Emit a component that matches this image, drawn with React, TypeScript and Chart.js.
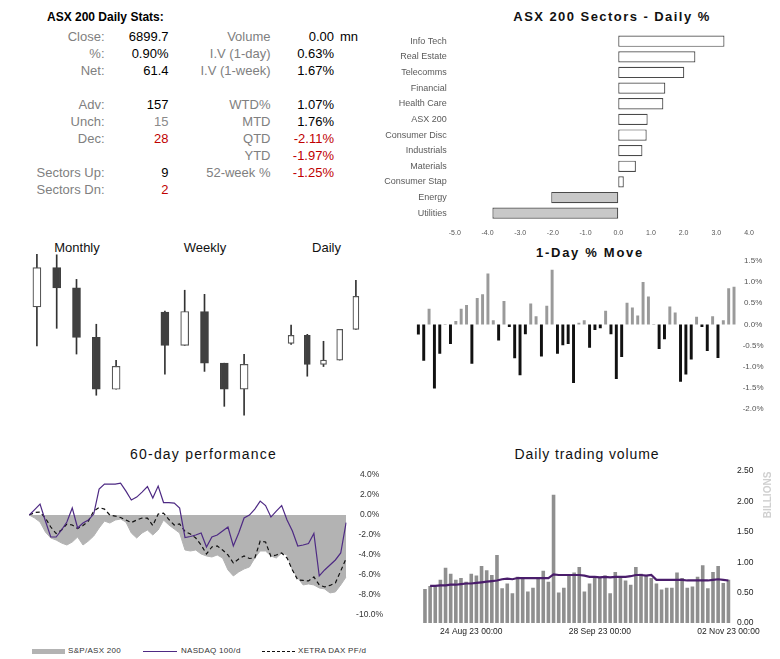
import React, { useEffect, useRef } from "react";
import { Chart, registerables } from "chart.js";
Chart.register(...registerables);

const FONT = '"Liberation Sans", Arial, Helvetica, sans-serif';
Chart.defaults.font.family = FONT;

// ---------- Stats table ----------
const statLeftLabels = ["Close:", "%:", "Net:", "", "Adv:", "Unch:", "Dec:", "", "Sectors Up:", "Sectors Dn:"];
const statLeftValues = ["6899.7", "0.90%", "61.4", "", "157", "15", "28", "", "9", "2"];
const statLeftTones = ["k", "k", "k", "", "k", "g", "r", "", "k", "r"];
const statRightLabels = ["Volume", "I.V (1-day)", "I.V (1-week)", "", "WTD%", "MTD", "QTD", "YTD", "52-week %", ""];
const statRightValues = ["0.00", "0.63%", "1.67%", "", "1.07%", "1.76%", "-2.11%", "-1.97%", "-1.25%", ""];
const statRightTones = ["k", "k", "k", "", "k", "k", "r", "r", "r", ""];

// ---------- Sectors ----------
const sectorNames = ["Info Tech", "Real Estate", "Telecomms", "Financial", "Health Care", "ASX 200", "Consumer Disc", "Industrials", "Materials", "Consumer Stap", "Energy", "Utilities"];
const sectorChanges = [3.25, 2.36, 2.02, 1.44, 1.38, 0.9, 0.87, 0.74, 0.54, 0.17, -2.05, -3.85];

// ---------- Candles ----------
const candleLabels = ["1", "2", "3", "4", "5"];
const monthlyOpen = [7207, 7410, 7305, 7049, 6781];
const monthlyHigh = [7478, 7476, 7349, 7117, 6931];
const monthlyLow = [7005, 7096, 6963, 6750, 6781];
const monthlyClose = [7410, 7305, 7049, 6781, 6899.7];

const weeklyOpen = [7052, 6955, 7054, 6903, 6827];
const weeklyHigh = [7055, 7116, 7104, 6903, 6929];
const weeklyLow = [6871, 6955, 6879, 6777, 6751];
const weeklyClose = [6955, 7054, 6903, 6827, 6899.7];

const dailyOpen = [6812, 6827, 6773, 6781, 6838.3];
const dailyHigh = [6846, 6829, 6816, 6838.3, 6929.5];
const dailyLow = [6810, 6751, 6769, 6781, 6838.3];
const dailyClose = [6827, 6773, 6781, 6838.3, 6899.7];

// ---------- Dates (60 trading days) ----------
const tradingDates = [
  "11 Aug 23", "14 Aug 23", "15 Aug 23", "16 Aug 23", "17 Aug 23", "18 Aug 23", "21 Aug 23", "22 Aug 23", "23 Aug 23", "24 Aug 23",
  "25 Aug 23", "28 Aug 23", "29 Aug 23", "30 Aug 23", "31 Aug 23", "01 Sep 23", "04 Sep 23", "05 Sep 23", "06 Sep 23", "07 Sep 23",
  "08 Sep 23", "11 Sep 23", "12 Sep 23", "13 Sep 23", "14 Sep 23", "15 Sep 23", "18 Sep 23", "19 Sep 23", "20 Sep 23", "21 Sep 23",
  "22 Sep 23", "25 Sep 23", "26 Sep 23", "27 Sep 23", "28 Sep 23", "29 Sep 23", "02 Oct 23", "03 Oct 23", "04 Oct 23", "05 Oct 23",
  "06 Oct 23", "09 Oct 23", "10 Oct 23", "11 Oct 23", "12 Oct 23", "13 Oct 23", "16 Oct 23", "17 Oct 23", "18 Oct 23", "19 Oct 23",
  "20 Oct 23", "23 Oct 23", "24 Oct 23", "25 Oct 23", "26 Oct 23", "27 Oct 23", "30 Oct 23", "31 Oct 23", "01 Nov 23", "02 Nov 23",
];
const volumeTickDates = ["24 Aug 23", "28 Sep 23", "02 Nov 23"];

// ---------- 1-day % move ----------
const dayMoves = [
  -0.24, -0.86, 0.37, -1.51, -0.69, 0.01, -0.46, 0.08, 0.37, 0.46,
  -0.93, 0.62, 0.71, 1.2, 0.1, -0.38, 0.55, -0.06, -0.8, -1.2,
  -0.23, 0.49, 0.19, -0.76, 0.44, 1.29, -0.69, -0.49, -0.46, -1.38,
  0.04, 0.1, -0.55, -0.13, -0.09, 0.32, -0.23, -1.29, -0.77, 0.51,
  0.4, 0.21, 1.0, 0.66, 0.01, -0.58, -0.35, 0.42, 0.28, -1.35,
  -1.18, -0.83, 0.18, -0.06, -0.63, 0.19, -0.79, 0.1, 0.85, 0.89,
];

// ---------- 60-day performance ----------
const asxPerf = [
  0, -0.3, -0.7, -1.7, -2.3, -2.5, -2.8, -3.0, -2.7, -2.2,
  -3.0, -2.6, -2.1, -1.3, -0.6, -0.8, -0.5, -0.4, -0.7, -1.8,
  -2.3, -1.8, -1.5, -2.0, -1.5, -0.5, -1.0, -1.4, -1.8, -3.5,
  -3.6, -3.5, -3.9, -4.1, -4.2, -4.0, -4.3, -5.5, -6.1, -5.7,
  -5.4, -5.2, -4.3, -3.6, -3.6, -4.1, -4.3, -3.8, -4.0, -5.5,
  -6.3, -7.0, -6.9, -7.0, -7.3, -7.4, -7.8, -7.7, -7.0, -6.2,
];
const nasdaqPerf = [
  0, 0.55, 1.1, -0.6, -2.2, -2.2, -1.5, -0.7, 0.7, -1.3,
  -0.8, -0.5, 0.1, 2.6, 3.1, 3.1, 3.1, 3.2, 2.4, 1.5,
  1.8, 2.3, 2.85, 1.7, 2.9, 1.25, 1.25, 1.2, 0.7, -2.25,
  -2.15, -2.0, -1.8, -3.2, -2.2, -2.0, -1.6, -1.2, -3.1, -1.8,
  -0.3, 0.0, 0.6, 1.4, 0.95, -0.2, 0.4, 0.95, -0.5, -1.6,
  -3.1, -3.0, -2.85, -1.85, -6.1, -5.5, -5.0, -4.5, -3.8, -0.75,
];
const daxPerf = [
  0, 0.25, 0.3, -0.3, -1.2, -1.85, -1.5, -0.9, -1.0, -1.35,
  -1.05, -0.6, 0.4, 0.75, 0.6, 0.0, -0.1, -0.25, -0.5, -0.75,
  -0.5, -0.3, -0.3, -1.05, 0.1, 0.2, -0.45, -1.0, -0.9, -1.65,
  -1.9, -2.3, -3.0, -3.9, -3.2, -3.1, -3.5, -4.0, -4.8, -4.4,
  -4.1, -4.35, -4.3, -2.6, -2.7, -4.15, -4.0, -3.8, -4.3, -5.5,
  -6.5, -6.55, -6.6, -6.2, -7.0, -7.2, -7.05, -6.8, -5.6, -4.35,
];

// ---------- Daily trading volume (billions) ----------
const volumes = [
  0.56, 0.61, 0.6, 0.71, 0.91, 0.81, 0.71, 0.74, 0.68, 0.81,
  0.78, 0.94, 0.87, 0.79, 1.12, 0.57, 0.65, 0.49, 0.76, 0.74,
  0.52, 0.58, 0.74, 0.86, 0.68, 2.11, 0.5, 0.58, 0.78, 0.83,
  0.92, 0.52, 0.65, 0.74, 0.74, 0.78, 0.49, 0.84, 0.74, 0.7,
  0.63, 0.92, 0.81, 0.78, 0.74, 0.65, 0.55, 0.58, 0.58, 0.83,
  0.74, 0.58, 0.6, 0.76, 0.95, 0.57, 0.84, 0.94, 0.66, 0.71,
];
const volumeAvg = [
  null, 0.61, 0.61, 0.62, 0.62, 0.63, 0.63, 0.64, 0.65, 0.65,
  0.66, 0.67, 0.68, 0.69, 0.7, 0.72, 0.73, 0.72, 0.74, 0.74,
  0.74, 0.74, 0.74, 0.74, 0.74, 0.8, 0.79, 0.79, 0.79, 0.79,
  0.79, 0.78, 0.76, 0.76, 0.75, 0.76, 0.75, 0.76, 0.76, 0.76,
  0.77, 0.79, 0.79, 0.78, 0.79, 0.71, 0.71, 0.71, 0.71, 0.71,
  0.71, 0.7, 0.7, 0.7, 0.7, 0.7, 0.71, 0.72, 0.71, 0.7,
];

// ---------- helpers ----------
const noPlugins = { legend: { display: false }, tooltip: { enabled: false }, title: { display: false } };

function ChartBox(props: { left: number; top: number; width: number; height: number; make: () => any }) {
  const ref = useRef<HTMLCanvasElement>(null);
  useEffect(() => {
    const chart = new Chart(ref.current as HTMLCanvasElement, props.make());
    return () => chart.destroy();
  }, []);
  return (
    <canvas
      ref={ref}
      width={props.width}
      height={props.height}
      style={{ position: "absolute", left: props.left, top: props.top, width: props.width, height: props.height }}
    />
  );
}

function Label(props: { text: string; x: number; y: number; align: "left" | "right" | "center"; size: number; color: string; bold?: boolean; spacing?: number; w?: number }) {
  const w = props.w ?? 200;
  const lh = Math.round(props.size * 1.25);
  let left = props.x;
  if (props.align === "right") left = props.x - w;
  if (props.align === "center") left = props.x - w / 2;
  return (
    <div
      style={{
        position: "absolute",
        left,
        top: props.y - lh / 2,
        width: w,
        height: lh,
        lineHeight: lh + "px",
        fontSize: props.size,
        fontFamily: FONT,
        fontWeight: props.bold ? 700 : 400,
        color: props.color,
        textAlign: props.align,
        letterSpacing: props.spacing ? props.spacing + "px" : undefined,
        whiteSpace: "nowrap",
      }}
    >
      {props.text}
    </div>
  );
}

const toneColor = (t: string) => (t === "r" ? "#c00000" : t === "g" ? "#8a8a8a" : "#000000");

function StatsTable() {
  const rows = statLeftLabels.map((_, i) => i);
  return (
    <>
      <Label text="ASX 200 Daily Stats:" x={47} y={17} align="left" size={12} color="#000" bold />
      {rows.map((i) => {
        const y = 36.7 + 17 * i;
        return (
          <React.Fragment key={i}>
            {statLeftLabels[i] && <Label text={statLeftLabels[i]} x={104.5} y={y} align="right" size={13} color="#808080" />}
            {statLeftValues[i] && <Label text={statLeftValues[i]} x={168.5} y={y} align="right" size={13} color={toneColor(statLeftTones[i])} />}
            {statRightLabels[i] && <Label text={statRightLabels[i]} x={270.5} y={y} align="right" size={13} color="#808080" />}
            {statRightValues[i] && <Label text={statRightValues[i]} x={334} y={y} align="right" size={13} color={toneColor(statRightTones[i])} />}
          </React.Fragment>
        );
      })}
      <Label text="mn" x={340} y={36.7} align="left" size={13} color="#000" w={40} />
    </>
  );
}

function sectorsConfig() {
  return {
    type: "bar",
    data: {
      labels: sectorNames,
      datasets: [
        {
          data: sectorChanges,
          backgroundColor: sectorChanges.map((v) => (v >= 0 ? "#ffffff" : "#c8c8c8")),
          borderColor: "#4a4a4a",
          borderWidth: 1.2,
          borderSkipped: false,
          barPercentage: 0.72,
          categoryPercentage: 1,
        },
      ],
    },
    options: {
      indexAxis: "y",
      responsive: false,
      animation: false,
      layout: { padding: { left: 0, right: 31, top: 6.4, bottom: 0 } },
      plugins: noPlugins,
      scales: {
        x: {
          min: -5,
          max: 4,
          ticks: { stepSize: 1, callback: (v: any) => Number(v).toFixed(1), font: { size: 7 }, color: "#555", padding: 8 },
          grid: { display: false, drawTicks: false },
          border: { display: false },
          afterFit: (s: any) => { s.height = 20; },
        },
        y: {
          ticks: { font: { size: 9 }, color: "#5a5a5a", padding: 8 },
          grid: { display: false, drawTicks: false },
          border: { display: false },
          afterFit: (s: any) => { s.width = 74.8; },
        },
      },
    },
  };
}

function candleConfig(open: number[], high: number[], low: number[], close: number[], yMin: number, yMax: number, bodyW: number) {
  return () => ({
    type: "bar",
    data: {
      labels: candleLabels,
      datasets: [
        {
          data: open.map((o, i) => [o, close[i]]),
          backgroundColor: open.map((o, i) => (close[i] >= o ? "#ffffff" : "#404040")),
          borderColor: open.map((o, i) => (close[i] >= o ? "#555555" : "#404040")),
          borderWidth: 1.2,
          borderSkipped: false,
          barThickness: bodyW,
          grouped: false,
          order: 0,
        },
        {
          data: low.map((l, i) => [l, high[i]]),
          backgroundColor: "#333333",
          barThickness: 1,
          grouped: false,
          order: 1,
        },
      ],
    },
    options: {
      responsive: false,
      animation: false,
      layout: { padding: 0 },
      plugins: noPlugins,
      scales: {
        x: { display: false },
        y: { display: false, min: yMin, max: yMax },
      },
    },
  });
}

function dayMoveConfig() {
  return {
    type: "bar",
    data: {
      labels: tradingDates,
      datasets: [
        {
          data: dayMoves,
          backgroundColor: dayMoves.map((v) => (v >= 0 ? "#9a9a9a" : "#111111")),
          barPercentage: 0.55,
          categoryPercentage: 1,
        },
      ],
    },
    options: {
      responsive: false,
      animation: false,
      layout: { padding: { left: 15.7, right: 0, top: 5.5, bottom: 6.5 } },
      plugins: noPlugins,
      scales: {
        x: { display: false },
        y: {
          position: "right",
          min: -2,
          max: 1.5,
          ticks: { stepSize: 0.5, callback: (v: any) => Number(v).toFixed(1) + "%", font: { size: 8 }, color: "#555", padding: 6, crossAlign: "center" },
          grid: { display: false, drawTicks: false },
          border: { display: false },
          afterFit: (s: any) => { s.width = 43.3; },
        },
      },
    },
  };
}

function perfConfig() {
  return {
    type: "line",
    data: {
      labels: tradingDates,
      datasets: [
        {
          label: "S&P/ASX 200",
          data: asxPerf,
          fill: "origin",
          backgroundColor: "#b3b3b3",
          borderColor: "#b3b3b3",
          borderWidth: 1,
          pointRadius: 0,
          tension: 0,
          order: 3,
        },
        {
          label: "NASDAQ 100/d",
          data: nasdaqPerf,
          fill: false,
          borderColor: "#4e2a84",
          borderWidth: 1.2,
          pointRadius: 0,
          tension: 0,
          order: 1,
        },
        {
          label: "XETRA DAX PF/d",
          data: daxPerf,
          fill: false,
          borderColor: "#111111",
          borderDash: [4, 3],
          borderWidth: 1.2,
          pointRadius: 0,
          tension: 0,
          order: 2,
        },
      ],
    },
    options: {
      responsive: false,
      animation: false,
      layout: { padding: { left: 9.3, right: 0, top: 5.7, bottom: 8.3 } },
      plugins: noPlugins,
      scales: {
        x: { display: false },
        y: {
          position: "right",
          min: -10,
          max: 4,
          ticks: { stepSize: 2, callback: (v: any) => Number(v).toFixed(1) + "%", font: { size: 8.5 }, color: "#333", padding: 10, crossAlign: "center" },
          grid: { display: false, drawTicks: false },
          border: { display: false },
          afterFit: (s: any) => { s.width = 53.9; },
        },
      },
    },
  };
}

function volumeConfig() {
  return {
    type: "bar",
    data: {
      labels: tradingDates,
      datasets: [
        {
          type: "line",
          data: volumeAvg,
          borderColor: "#4a1d6b",
          borderWidth: 2.2,
          pointRadius: 0,
          tension: 0,
          fill: false,
          order: 1,
        },
        {
          type: "bar",
          data: volumes,
          backgroundColor: "#8f8f8f",
          barPercentage: 0.7,
          categoryPercentage: 1,
          order: 2,
        },
      ],
    },
    options: {
      responsive: false,
      animation: false,
      layout: { padding: { left: 22.4, right: 0, top: 8.3, bottom: 0 } },
      plugins: noPlugins,
      scales: {
        x: {
          ticks: {
            autoSkip: false,
            maxRotation: 0,
            minRotation: 0,
            callback: (_v: any, i: number) => (volumeTickDates.includes(tradingDates[i]) ? tradingDates[i] + " 00:00" : ""),
            font: { size: 8.5 },
            color: "#222",
            padding: 4,
          },
          grid: { display: false, drawTicks: false },
          border: { display: false },
          afterFit: (s: any) => { s.height = 20; },
        },
        y: {
          position: "right",
          min: 0,
          max: 2.5,
          ticks: { stepSize: 0.5, callback: (v: any) => Number(v).toFixed(2), font: { size: 8.5 }, color: "#222", padding: 6, crossAlign: "center" },
          grid: { display: false, drawTicks: false },
          border: { display: false },
          afterFit: (s: any) => { s.width = 49; },
        },
      },
    },
  };
}

function PerfLegend() {
  const y = 651;
  return (
    <>
      <div style={{ position: "absolute", left: 32, top: y - 2.5, width: 33, height: 5, background: "#b3b3b3" }} />
      <Label text="S&P/ASX 200" x={68} y={y} align="left" size={8} color="#333" spacing={0.3} w={70} />
      <div style={{ position: "absolute", left: 143, top: y, width: 34, height: 0, borderTop: "1.2px solid #4e2a84" }} />
      <Label text="NASDAQ 100/d" x={181} y={y} align="left" size={8} color="#333" spacing={0.3} w={70} />
      <div style={{ position: "absolute", left: 262, top: y, width: 33, height: 0, borderTop: "1.2px dashed #111" }} />
      <Label text="XETRA DAX PF/d" x={298} y={y} align="left" size={8} color="#333" spacing={0.3} w={80} />
    </>
  );
}

export default function App() {
  return (
    <div style={{ position: "absolute", left: 0, top: 0, width: 780, height: 659, background: "#fff", overflow: "hidden", fontFamily: FONT }}>
      <StatsTable />

      <Label text="ASX 200 Sectors - Daily %" x={612} y={17} align="center" size={13} color="#111" bold spacing={1.45} w={300} />
      <ChartBox left={380} top={20} width={400} height={221} make={sectorsConfig} />

      <Label text="Monthly" x={77} y={248} align="center" size={13} color="#111" w={100} />
      <Label text="Weekly" x={205} y={248} align="center" size={13} color="#111" w={100} />
      <Label text="Daily" x={326.5} y={248} align="center" size={13} color="#111" w={100} />
      <ChartBox left={27} top={250} width={99} height={170} make={candleConfig(monthlyOpen, monthlyHigh, monthlyLow, monthlyClose, 6622, 7500.9, 8)} />
      <ChartBox left={155} top={250} width={99} height={170} make={candleConfig(weeklyOpen, weeklyHigh, weeklyLow, weeklyClose, 6737.1, 7233.5, 8)} />
      <ChartBox left={283} top={250} width={81} height={170} make={candleConfig(dailyOpen, dailyHigh, dailyLow, dailyClose, 6669.5, 6985.9, 6)} />

      <Label text="1-Day % Move" x={590} y={253} align="center" size={13} color="#111" bold spacing={1.7} w={200} />
      <ChartBox left={400} top={250} width={380} height={170} make={dayMoveConfig} />

      <Label text="60-day performance" x={203.5} y={454} align="center" size={14} color="#111" spacing={1.2} w={220} />
      <ChartBox left={20} top={460} width={380} height={170} make={perfConfig} />
      <PerfLegend />

      <Label text="Daily trading volume" x={587} y={454} align="center" size={14} color="#111" spacing={0.9} w={220} />
      <ChartBox left={400} top={460} width={380} height={183} make={volumeConfig} />
      <div
        style={{
          position: "absolute",
          left: 767.7 - 30,
          top: 495 - 6,
          width: 60,
          height: 12,
          lineHeight: "12px",
          fontSize: 10,
          fontWeight: 700,
          fontFamily: FONT,
          color: "#d0d0d0",
          textAlign: "center",
          transform: "rotate(-90deg)",
        }}
      >
        BILLIONS
      </div>
    </div>
  );
}
